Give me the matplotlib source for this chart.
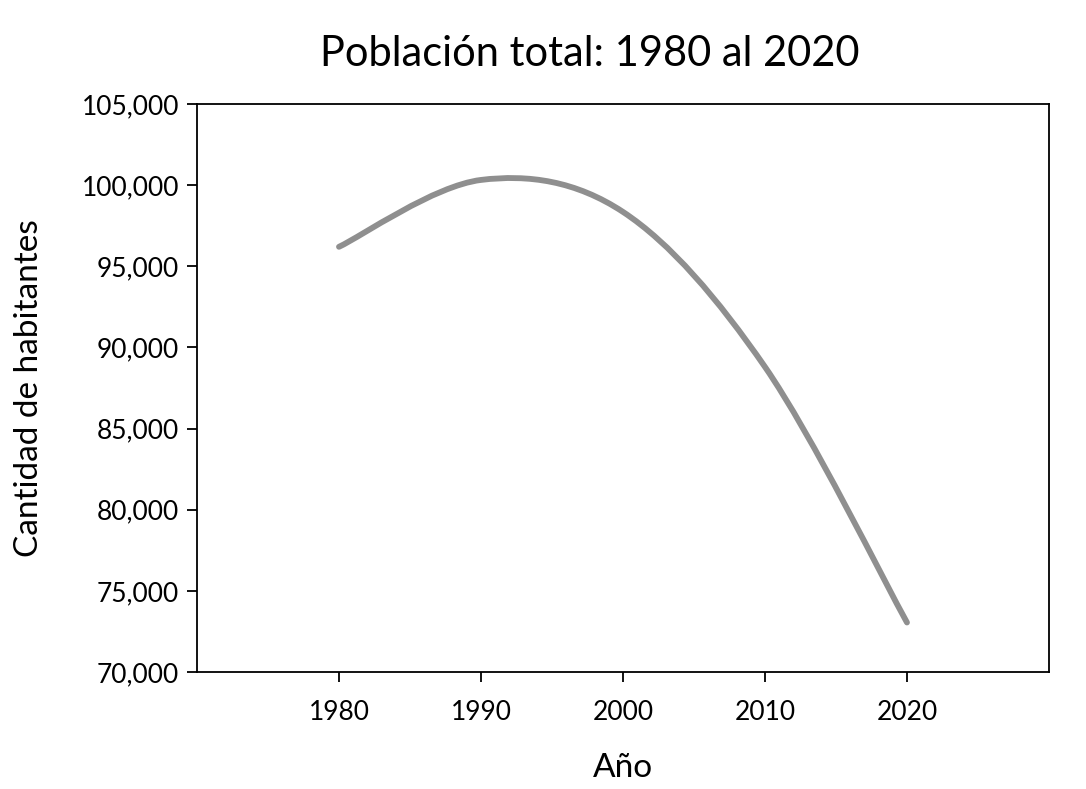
import matplotlib
matplotlib.use('Agg')
import matplotlib.pyplot as plt
from matplotlib.path import Path
from matplotlib.patches import PathPatch
from matplotlib.ticker import FuncFormatter

plt.rcParams['font.family'] = ['Lato', 'DejaVu Sans']

# datos
anios = [1980, 1990, 2000, 2010, 2020]
habitantes = [96200, 100320, 98350, 88800, 73050]

titulo = 'Población total: 1980 al 2020'
etiqueta_x = 'Año'
etiqueta_y = 'Cantidad de habitantes'


def curva_suave(xs, ys):
    # bezier tipo "línea suavizada" de Excel
    pts = list(zip(xs, ys))
    verts = [pts[0]]
    codes = [Path.MOVETO]
    n = len(pts)
    for i in range(n - 1):
        p0 = pts[i - 1] if i > 0 else pts[i]
        p1 = pts[i]
        p2 = pts[i + 1]
        p3 = pts[i + 2] if i + 2 < n else pts[i + 1]
        c1 = (p1[0] + (p2[0] - p0[0]) / 6, p1[1] + (p2[1] - p0[1]) / 6)
        c2 = (p2[0] - (p3[0] - p1[0]) / 6, p2[1] - (p3[1] - p1[1]) / 6)
        verts += [c1, c2, p2]
        codes += [Path.CURVE4] * 3
    return Path(verts, codes)


fig = plt.figure(figsize=(10.86, 7.89), dpi=100)
ax = fig.add_axes([0.1814, 0.1483, 0.7845, 0.7199])

patch = PathPatch(curva_suave(anios, habitantes), facecolor='none',
                  edgecolor='#8f8f8f', lw=4.2, capstyle='round')
ax.add_patch(patch)

ax.set_xlim(1970, 2030)
ax.set_ylim(70000, 105000)
ax.set_xticks(anios)
ax.set_yticks(range(70000, 105001, 5000))
ax.yaxis.set_major_formatter(FuncFormatter(lambda v, p: f'{int(v):,}'))

for s in ax.spines.values():
    s.set_linewidth(1.3)
ax.tick_params(axis='both', direction='out', length=7, width=1.3,
               labelsize=19, pad=6)
ax.tick_params(axis='x', pad=13)

fig.text(0.543, 0.931, titulo, fontsize=30, ha='center', va='center')
ax.set_xlabel(etiqueta_x, fontsize=24, labelpad=20)
ax.set_ylabel(etiqueta_y, fontsize=24, labelpad=27)

fig.savefig('out.png', dpi=100)
